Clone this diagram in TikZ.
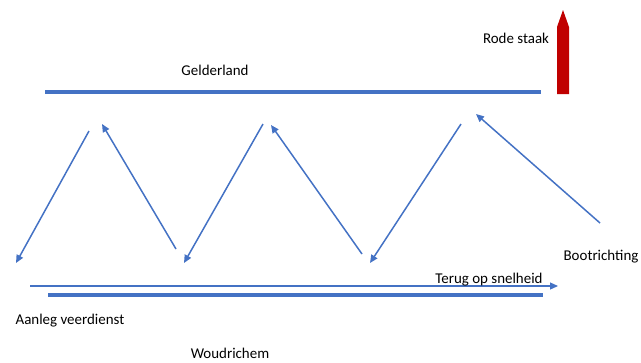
\documentclass[tikz,border=0pt]{standalone}
\usepackage{fontspec}
\setmainfont{Carlito}
\usetikzlibrary{arrows.meta}
\definecolor{rivierblauw}{HTML}{4472C4}
\definecolor{staakrood}{HTML}{C00000}

\begin{document}
\begin{tikzpicture}[x=1bp,y=-1bp,
	oever/.style={rivierblauw,line width=4bp},
	koers/.style={rivierblauw,line width=1.5bp,-{Triangle[length=8bp,width=7bp]}},
	tekst/.style={inner sep=0pt,font=\fontsize{15}{18}\selectfont}]
	\useasboundingbox (0,0) rectangle (641,362);
	% oevers
	\coordinate (gl) at (45,92);
	\coordinate (gr) at (541,92);
	\coordinate (wl) at (48,295);
	\coordinate (wr) at (543,295);
	\draw[oever] (gl)--(gr);
	\draw[oever] (wl)--(wr);
	% rode staak
	\fill[staakrood] (557,94)--(557,27)--(563,10)--(569,27)--(569,94)--cycle;
	% zigzag over de rivier
	\coordinate (t1) at (89,131);
	\coordinate (t2) at (102,124);
	\coordinate (t3) at (263,124);
	\coordinate (t4) at (271,125);
	\coordinate (t5) at (461,124);
	\coordinate (t6) at (476,114);
	\coordinate (b1) at (16,263);
	\coordinate (b2) at (176,249);
	\coordinate (b3) at (184,263);
	\coordinate (b4) at (362,254);
	\coordinate (b5) at (370,263);
	\coordinate (b6) at (600,223);
	\draw[koers] (t1)--(b1);
	\draw[koers] (b2)--(t2);
	\draw[koers] (t3)--(b3);
	\draw[koers] (b4)--(t4);
	\draw[koers] (t5)--(b5);
	\draw[koers] (b6)--(t6);
	% terug op snelheid
	\coordinate (s0) at (30,286);
	\coordinate (s1) at (558,286);
	\draw[rivierblauw,line width=1.2bp,-{Triangle[length=8bp,width=7bp]}] (s0)--(s1);
	% teksten
	\node[tekst] (rode) at (516,38) {Rode staak};
	\node[tekst] (gelderland) at (215,70) {Gelderland};
	\node[tekst] (boot) at (601,257) {Bootrichting};
	\node[tekst] (terug) at (489,280) {Terug op snelheid};
	\node[tekst] (aanleg) at (70,321) {Aanleg veerdienst};
	\node[tekst] (woudrichem) at (230,353) {Woudrichem};
\end{tikzpicture}
\end{document}
